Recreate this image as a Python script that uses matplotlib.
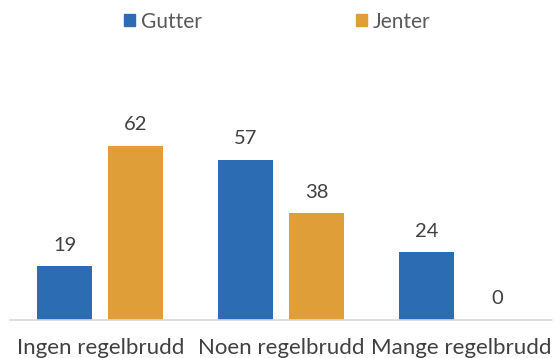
import numpy as np
import matplotlib.pyplot as plt
from matplotlib.patches import Patch

categories = ['Ingen regelbrudd', 'Noen regelbrudd', 'Mange regelbrudd']
gutter = [19, 57, 24]
jenter = [62, 38, 0]

blue = '#2B6CB3'
orange = '#DF9E38'
text_col = '#404040'

plt.rcParams['font.family'] = ['Lato', 'DejaVu Sans']

fig = plt.figure(figsize=(5.54, 3.58), dpi=100)
ax = fig.add_axes([10 / 554, 38.5 / 358, 542 / 554, 196 / 358])

x = np.arange(len(categories))
w = 0.304
off = 0.196
b1 = ax.bar(x - off, gutter, w, color=blue, label='Gutter')
b2 = ax.bar(x + off, jenter, w, color=orange, label='Jenter')

for bars in (b1, b2):
    for rect in bars:
        h = rect.get_height()
        ax.annotate(f'{h:.0f}', (rect.get_x() + rect.get_width() / 2, h),
                    xytext=(0, 9), textcoords='offset points',
                    ha='center', va='bottom', fontsize=14.5, color=text_col)

ax.set_xlim(-0.5, 2.5)
ax.set_ylim(0, 70)
ax.set_xticks(x)
ax.set_xticklabels(categories, fontsize=16, color=text_col)
ax.tick_params(axis='x', length=0, pad=13)
ax.set_yticks([])
for side in ('top', 'right', 'left'):
    ax.spines[side].set_visible(False)
ax.spines['bottom'].set_color('#D9D9D9')
ax.spines['bottom'].set_linewidth(1.2)

handles = [Patch(color=blue, label='Gutter'), Patch(color=orange, label='Jenter')]
fig.legend(handles=handles, loc='upper center', bbox_to_anchor=(0.5, 1.02),
           ncol=2, frameon=False, fontsize=15, handlelength=0.55,
           handleheight=0.55, handletextpad=0.25, columnspacing=7.4,
           labelcolor='#595959')

fig.savefig('out.png', dpi=100)
